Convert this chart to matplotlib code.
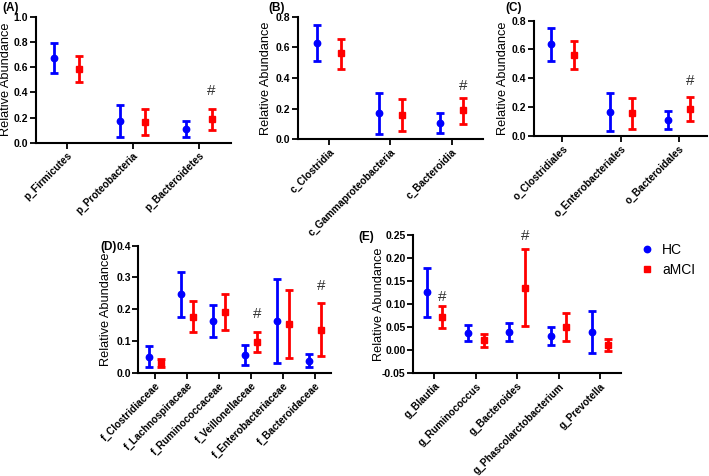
import numpy as np
import matplotlib
matplotlib.use('Agg')
import matplotlib.pyplot as plt

# ---- data ----
a_cats = ['p_Firmicutes', 'p_Proteobacteria', 'p_Bacteroidetes']
a_hc = [0.67, 0.172, 0.109]
a_hc_lo = [0.55, 0.045, 0.045]
a_hc_hi = [0.79, 0.30, 0.17]
a_mci = [0.585, 0.162, 0.188]
a_mci_lo = [0.484, 0.061, 0.103]
a_mci_hi = [0.69, 0.27, 0.27]

b_cats = ['c_Clostridia', 'c_Gammaproteobacteria', 'c_Bacteroidia']
b_hc = [0.63, 0.17, 0.108]
b_hc_lo = [0.513, 0.037, 0.043]
b_hc_hi = [0.748, 0.30, 0.174]
b_mci = [0.561, 0.16, 0.189]
b_mci_lo = [0.46, 0.056, 0.10]
b_mci_hi = [0.656, 0.265, 0.271]

c_cats = ['o_Clostridiales', 'o_Enterobacteriales', 'o_Bacteroidales']
c_hc = [0.638, 0.165, 0.111]
c_hc_lo = [0.517, 0.033, 0.044]
c_hc_hi = [0.749, 0.297, 0.174]
c_mci = [0.563, 0.156, 0.186]
c_mci_lo = [0.464, 0.049, 0.102]
c_mci_hi = [0.661, 0.262, 0.271]

d_cats = ['f_Clostridiaceae', 'f_Lachnospiraceae', 'f_Ruminococcaceae',
          'f_Veillonellaceae', 'f_Enterobacteriaceae', 'f_Bacteroidaceae']
d_hc = [0.050, 0.247, 0.162, 0.057, 0.162, 0.038]
d_hc_lo = [0.018, 0.174, 0.111, 0.024, 0.031, 0.019]
d_hc_hi = [0.084, 0.318, 0.212, 0.088, 0.296, 0.058]
d_mci = [0.029, 0.176, 0.191, 0.098, 0.152, 0.135]
d_mci_lo = [0.017, 0.127, 0.134, 0.066, 0.047, 0.052]
d_mci_hi = [0.043, 0.225, 0.247, 0.128, 0.259, 0.218]

e_cats = ['g_Blautia', 'g_Ruminococcus', 'g_Bacteroides',
          'g_Phascolarctobacterium', 'g_Prevotella']
e_hc = [0.126, 0.037, 0.040, 0.030, 0.040]
e_hc_lo = [0.072, 0.019, 0.021, 0.012, -0.006]
e_hc_hi = [0.178, 0.055, 0.059, 0.050, 0.086]
e_mci = [0.073, 0.022, 0.136, 0.051, 0.012]
e_mci_lo = [0.048, 0.008, 0.053, 0.020, -0.001]
e_mci_hi = [0.097, 0.036, 0.219, 0.081, 0.025]

# significance marks: (category index, y)
a_sig = [(2, 0.41)]
b_sig = [(2, 0.35)]
c_sig = [(2, 0.38)]
d_sig = [(3, 0.185), (5, 0.273)]
e_sig = [(0, 0.115), (2, 0.247)]

BLUE = '#0000ff'
RED = '#ff0000'
W = 709
H = 476
MS = 4.6


def panel(fig, box, label, lab_xy, cats, hc, hc_lo, hc_hi, mci, mci_lo, mci_hi,
          sig, ylim, yticks, fmt, xpad, ylab_x):
    l, r, t, b = box
    ax = fig.add_axes([l / W, 1 - b / H, (r - l) / W, (b - t) / H])
    x = np.arange(len(cats))
    off = 0.19
    for xs, m, lo, hi, col, mk in [(x - off, hc, hc_lo, hc_hi, BLUE, 'o'),
                                   (x + off, mci, mci_lo, mci_hi, RED, 's')]:
        m = np.array(m)
        err = [m - np.array(lo), np.array(hi) - m]
        ax.errorbar(xs, m, yerr=err, fmt=mk, color=col, ms=MS, elinewidth=2.0,
                    capsize=2.6, capthick=2.0, clip_on=False)
    for i, yv in sig:
        ax.text(i + off, yv, '#', ha='center', va='center', fontsize=11,
                color='#333333')
    ax.set_xlim(-xpad[0], len(cats) - 1 + xpad[1])
    ax.set_ylim(*ylim)
    ax.set_yticks(yticks)
    ax.set_yticklabels([fmt.format(v) for v in yticks], fontsize=7.5,
                       fontweight='bold')
    ax.set_xticks(x)
    ax.set_xticklabels(cats, rotation=45, ha='right', rotation_mode='anchor',
                       fontsize=7.3, fontweight='bold')
    for s in ['top', 'right']:
        ax.spines[s].set_visible(False)
    for s in ['left', 'bottom']:
        ax.spines[s].set_linewidth(1.5)
    ax.tick_params(width=1.3, length=4, pad=1.5)
    ax.set_ylabel('Relative Abundance', fontsize=9.2)
    ax.yaxis.set_label_coords(ylab_x, 0.5)
    fig.text(lab_xy[0] / W, 1 - lab_xy[1] / H, label, fontsize=8.5,
             fontweight='bold', ha='left', va='center')
    return ax


def main():
    plt.rcParams['font.family'] = ['Liberation Sans', 'DejaVu Sans']
    fig = plt.figure(figsize=(7.09, 4.76), dpi=100)

    panel(fig, (36, 231, 16.7, 142.7), '(A)', (2, 8), a_cats,
          a_hc, a_hc_lo, a_hc_hi, a_mci, a_mci_lo, a_mci_hi, a_sig,
          (0, 1.0), [0, 0.2, 0.4, 0.6, 0.8, 1.0], '{:.1f}', (0.465, 0.485), -0.125)
    panel(fig, (297.7, 483, 16.7, 139.3), '(B)', (268, 8), b_cats,
          b_hc, b_hc_lo, b_hc_hi, b_mci, b_mci_lo, b_mci_hi, b_sig,
          (0, 0.8), [0, 0.2, 0.4, 0.6, 0.8], '{:.1f}', (0.51, 0.51), -0.137)
    panel(fig, (534, 707.3, 20.7, 135.7), '(C)', (505, 8), c_cats,
          c_hc, c_hc_lo, c_hc_hi, c_mci, c_mci_lo, c_mci_hi, c_sig,
          (0, 0.8), [0, 0.2, 0.4, 0.6, 0.8], '{:.1f}', (0.49, 0.49), -0.143)
    panel(fig, (138.3, 330.7, 245.7, 372.7), '(D)', (100, 247), d_cats,
          d_hc, d_hc_lo, d_hc_hi, d_mci, d_mci_lo, d_mci_hi, d_sig,
          (0, 0.4), [0, 0.1, 0.2, 0.3, 0.4], '{:.1f}', (0.53, 0.5), -0.135)
    ax = panel(fig, (413.3, 621, 235, 373.3), '(E)', (358, 237), e_cats,
               e_hc, e_hc_lo, e_hc_hi, e_mci, e_mci_lo, e_mci_hi, e_sig,
               (-0.05, 0.25), [-0.05, 0, 0.05, 0.1, 0.15, 0.2, 0.25], '{:.2f}',
               (0.51, 0.51), -0.136)

    # legend
    h1, = ax.plot([], [], 'o', color=BLUE, ms=MS, label='HC')
    h2, = ax.plot([], [], 's', color=RED, ms=MS, label='aMCI')
    fig.legend(handles=[h1, h2], loc='upper left',
               bbox_to_anchor=(626 / W, 1 - 230 / H), frameon=False,
               fontsize=10, handletextpad=0.5, labelspacing=0.45,
               handlelength=1.2)

    fig.savefig('out.png', dpi=100)


if __name__ == "__main__":
    main()
